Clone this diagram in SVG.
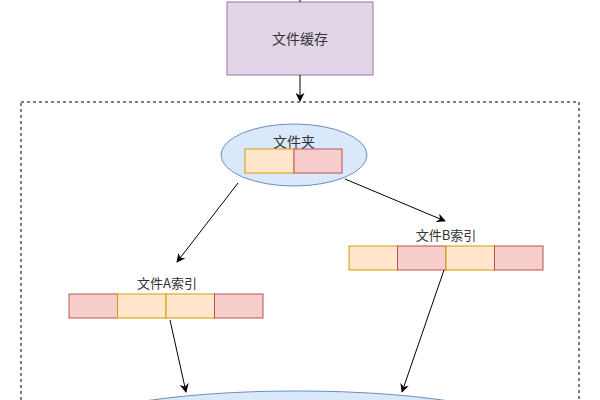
<svg xmlns="http://www.w3.org/2000/svg" width="600" height="400" viewBox="0 0 600 400">
<defs>
<style>
text{font-family:"Noto Sans CJK SC","Liberation Sans",sans-serif;font-size:13px;fill:#333;text-anchor:middle;}
.or{fill:#ffe6cc;stroke:#d79b00;stroke-width:1;}
.rd{fill:#f8cecc;stroke:#b85450;stroke-width:1;}
.el{fill:#dae8fc;stroke:#6c8ebf;stroke-width:1;}
.ln{stroke:#000;stroke-width:1;fill:none;}
</style>
<marker id="ah" viewBox="0 0 10 10" refX="9" refY="5" markerWidth="9" markerHeight="9" orient="auto" markerUnits="userSpaceOnUse">
<path d="M0,0 L10,5 L0,10 L3,5 Z" fill="#000"/>
</marker>
</defs>
<rect width="600" height="400" fill="#fff"/>
<g id="container">
<rect x="21" y="102" width="558" height="320" fill="none" stroke="#000" stroke-width="1" stroke-dasharray="3,3"/>
</g>
<g id="cache">
<rect x="227" y="2" width="146" height="73" fill="#e1d5e7" stroke="#9673a6" stroke-width="1"/>
<text x="300" y="44" style="font-size:14px">文件缓存</text>
</g>
<g id="folder">
<ellipse cx="294" cy="155" rx="73" ry="31" class="el"/>
<text x="294" y="147" style="font-size:14px">文件夹</text>
<rect x="245" y="149" width="49" height="24" class="or"/>
<rect x="294" y="149" width="48" height="24" class="rd"/>
</g>
<g id="indexB">
<text x="446" y="240">文件B索引</text>
<rect x="349" y="246" width="48.5" height="24" class="or"/>
<rect x="397.5" y="246" width="48.5" height="24" class="rd"/>
<rect x="446" y="246" width="48.5" height="24" class="or"/>
<rect x="494.5" y="246" width="48.5" height="24" class="rd"/>
</g>
<g id="indexA">
<text x="167" y="288">文件A索引</text>
<rect x="69" y="294" width="48.5" height="24" class="rd"/>
<rect x="117.5" y="294" width="48.5" height="24" class="or"/>
<rect x="166" y="294" width="48.5" height="24" class="or"/>
<rect x="214.5" y="294" width="48.5" height="24" class="rd"/>
</g>
<g id="storage">
<ellipse cx="297" cy="433" rx="235" ry="42" class="el"/>
</g>
<g id="connectors">
<line x1="300" y1="0" x2="300" y2="2" class="ln"/>
<line x1="300" y1="75" x2="300" y2="101" class="ln" marker-end="url(#ah)"/>
<line x1="238" y1="183" x2="177" y2="262" class="ln" marker-end="url(#ah)"/>
<line x1="345" y1="179" x2="445" y2="221" class="ln" marker-end="url(#ah)"/>
<line x1="170" y1="320" x2="186" y2="392" class="ln" marker-end="url(#ah)"/>
<line x1="444" y1="270" x2="402" y2="392" class="ln" marker-end="url(#ah)"/>
</g>
</svg>
